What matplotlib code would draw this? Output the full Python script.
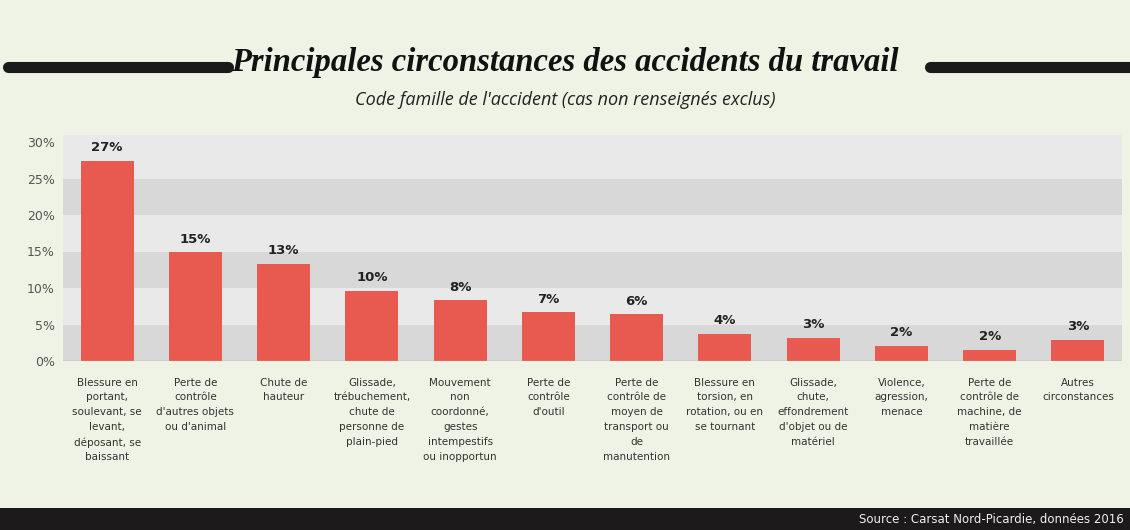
import matplotlib
matplotlib.use("Agg")
import matplotlib.pyplot as plt
from matplotlib.lines import Line2D
from matplotlib.patches import Rectangle

categories = [
    "Blessure en\nportant,\nsoulevant, se\nlevant,\ndéposant, se\nbaissant",
    "Perte de\ncontrôle\nd'autres objets\nou d'animal",
    "Chute de\nhauteur",
    "Glissade,\ntrébuchement,\nchute de\npersonne de\nplain-pied",
    "Mouvement\nnon\ncoordonné,\ngestes\nintempestifs\nou inopportun",
    "Perte de\ncontrôle\nd'outil",
    "Perte de\ncontrôle de\nmoyen de\ntransport ou\nde\nmanutention",
    "Blessure en\ntorsion, en\nrotation, ou en\nse tournant",
    "Glissade,\nchute,\neffondrement\nd'objet ou de\nmatériel",
    "Violence,\nagression,\nmenace",
    "Perte de\ncontrôle de\nmachine, de\nmatière\ntravaillée",
    "Autres\ncirconstances",
]
values = [27.4, 14.9, 13.3, 9.6, 8.3, 6.7, 6.4, 3.7, 3.2, 2.1, 1.5, 2.9]
labels = ["27%", "15%", "13%", "10%", "8%", "7%", "6%", "4%", "3%", "2%", "2%", "3%"]
yticks = [0, 5, 10, 15, 20, 25, 30]
ytick_labels = ["0%", "5%", "10%", "15%", "20%", "25%", "30%"]

BG = "#eef3e6"
fig = plt.figure(figsize=(11.3, 5.3), dpi=100, facecolor=BG)
ax = fig.add_axes([63/1130, (530-361)/530, (1122-63)/1130, (361-142)/530])
ax.set_facecolor(BG)

x = list(range(len(values)))
ax.set_xlim(-0.5, len(values) - 0.5)
ax.set_ylim(0, 30)
for i, lo in enumerate(range(0, 30, 5)):
    col = "#d8d8d8" if i % 2 == 0 else "#e9e9e9"
    ax.axhspan(lo, lo + 5, color=col, zorder=0, lw=0)
ax.add_patch(Rectangle((0, 1.0), 1, 0.03, transform=ax.transAxes, color="#e9e9e9",
                       clip_on=False, lw=0, zorder=0))

ax.bar(x, values, width=0.6, color="#e85a4f", zorder=2)
for xi, v, lab in zip(x, values, labels):
    ax.text(xi, v + 0.9, lab, ha="center", va="bottom", fontsize=9.5,
            fontweight="bold", color="#222222", zorder=3)

ax.set_yticks(yticks)
ax.set_yticklabels(ytick_labels, fontsize=9, color="#555555")
ax.set_xticks(x)
ax.set_xticklabels(categories, fontsize=7.5, color="#333333", linespacing=1.6)
ax.tick_params(axis="x", length=0, pad=12)
ax.tick_params(axis="y", length=0, pad=6)
for s in ax.spines.values():
    s.set_visible(False)
ax.axhline(0, color="#aaaaaa", lw=1, zorder=3)

# Title
fig.text(0.5, 1 - 63/530, "Principales circonstances des accidents du travail",
         ha="center", va="center", fontsize=23.5, fontstyle="italic", fontweight="bold",
         family="Liberation Serif", color="#111111")
fig.text(0.5, 1 - 100/530, "Code famille de l'accident (cas non renseignés exclus)",
         ha="center", va="center", fontsize=13, fontstyle="italic", color="#222222",
         family="Open Sans")
for x0, x1 in [(8, 228), (930, 1130)]:
    fig.add_artist(Line2D([x0/1130, x1/1130], [1 - 67/530, 1 - 67/530],
                          transform=fig.transFigure, color="#1a1a1a", lw=8,
                          solid_capstyle="round"))

# Footer strip
fig.add_artist(Rectangle((0, 0), 1, 22/530, transform=fig.transFigure,
                         color="#1c1a1b", lw=0))
fig.text(1 - 6/1130, 11/530, "Source : Carsat Nord-Picardie, données 2016",
         ha="right", va="center", fontsize=8.5, color="#f0f0f0")

fig.savefig("out.png", dpi=100, facecolor=BG)
